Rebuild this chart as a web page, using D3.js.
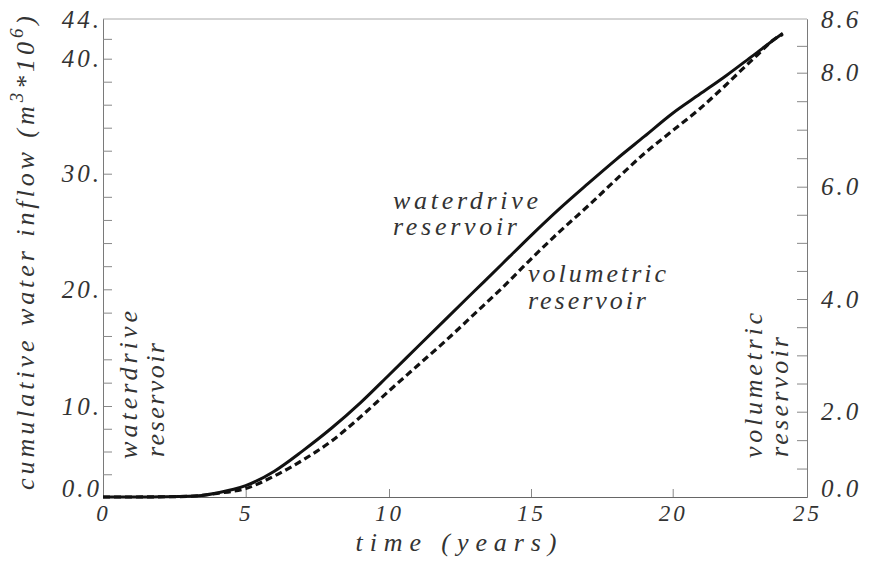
<!DOCTYPE html>
<html>
<head>
<meta charset="utf-8">
<script src="https://cdn.jsdelivr.net/npm/d3@7"></script>
<style>
  body { margin: 0; background: #fff; }
  svg text { font-family: "Liberation Serif", "DejaVu Serif", serif; font-style: italic; fill: #333; }
  .tick text { font-size: 25px; letter-spacing: 3px; }
  .xaxis .tick text { font-size: 23px; }
  .note { font-size: 26px; }
</style>
</head>
<body>
<svg id="chart" width="869" height="562"></svg>
<script>
// Cumulative water inflow over time for two reservoir types
const timeYears = [0, 1, 2, 3, 4, 5, 6, 7, 8, 9, 10, 11, 12, 13, 14, 15, 16, 17, 18, 19, 20, 21, 22, 23, 24, 24.1];
const waterdrive = [0, 0, 0.02, 0.07, 0.45, 1.24, 2.84, 5.10, 7.58, 10.27, 12.66, 15.06, 17.45, 19.83, 22.23, 24.65, 26.96, 29.12, 31.23, 33.24, 35.26, 36.9, 38.54, 40.34, 42.37, 42.56];
const volumetric = [0, 0, 0.02, 0.07, 0.40, 0.93, 2.31, 4.07, 6.16, 8.79, 11.29, 13.45, 15.6, 17.87, 20.16, 22.62, 24.97, 27.18, 29.49, 31.76, 33.75, 35.63, 37.76, 39.99, 42.33, 42.45];

// Axis ticks
const xTicks = [0, 5, 10, 15, 20, 25];
const leftTicks = [0, 10, 20, 30, 40, 44];
const leftMinor = [2.5, 5, 7.5, 12, 14, 16, 18, 22, 24, 26, 28, 32, 34, 36, 38, 42];
const rightTicks = [0, 2, 4, 6, 8, 8.6];
const rightMinor = [0.667, 1.333, 2.5, 3, 3.5, 4.5, 5, 5.5, 6.5, 7, 7.5, 8.3];

const svg = d3.select("#chart");

// piecewise-linear scales, one segment per labelled interval
const x = d3.scaleLinear().domain(xTicks).range([103, 245.7, 389, 531, 672.7, 807]);
const y = d3.scaleLinear().domain(leftTicks).range([497, 406, 289.3, 173.7, 58.7, 19]);
const y2 = d3.scaleLinear().domain(rightTicks).range([497, 411.7, 299, 186.7, 72.7, 19]);

const axisColor = "#7a7a7a";

// top frame line
svg.append("line")
  .attr("x1", x(0)).attr("x2", x(25))
  .attr("y1", y(44)).attr("y2", y(44))
  .attr("stroke", "#aaa").attr("stroke-width", 1);

// bottom axis
const gx = svg.append("g").attr("class", "xaxis").attr("transform", `translate(0,${y(0)})`)
  .call(d3.axisBottom(x).tickValues(xTicks).tickSize(-8).tickSizeOuter(0).tickPadding(8).tickFormat(d3.format("d")));

// left axis, majors + minors
const gy = svg.append("g").attr("transform", `translate(${x(0)},0)`)
  .call(d3.axisLeft(y).tickValues(leftTicks).tickSize(-9).tickSizeOuter(0).tickPadding(1)
    .tickFormat(d => d === 0 ? "0.0" : d + "."));
const gyMinor = svg.append("g").attr("transform", `translate(${x(0)},0)`)
  .call(d3.axisLeft(y).tickValues(leftMinor).tickSize(-9).tickSizeOuter(0).tickFormat(""));

// right axis, majors + minors
const gy2 = svg.append("g").attr("transform", `translate(${x(25)},0)`)
  .call(d3.axisRight(y2).tickValues(rightTicks).tickSize(-10).tickSizeOuter(0).tickPadding(14)
    .tickFormat(d3.format(".1f")));
const gy2Minor = svg.append("g").attr("transform", `translate(${x(25)},0)`)
  .call(d3.axisRight(y2).tickValues(rightMinor).tickSize(-10).tickSizeOuter(0).tickFormat(""));

[gx, gy, gyMinor, gy2, gy2Minor].forEach(g => {
  g.select(".domain").attr("stroke", axisColor).attr("stroke-width", 1);
  g.selectAll(".tick line").attr("stroke", "#888").attr("stroke-width", 1);
});
gx.select(".domain").attr("stroke", "#666");

// no tick marks where the frame corners already sit
gy.selectAll(".tick").filter(d => d === 0 || d === 44).select("line").remove();
gy2.selectAll(".tick").filter(d => d === 0 || d === 8.6).select("line").remove();
gx.selectAll(".tick").filter(d => d === 0 || d === 25).select("line").remove();

// bottom labels of the vertical axes sit on the baseline
gy.selectAll(".tick").filter(d => d === 0).select("text").attr("dy", "0.0em").attr("y", -1);
gy2.selectAll(".tick").filter(d => d === 0).select("text").attr("dy", "0.0em").attr("y", -1);

// series
const line = d3.line()
  .x((d, i) => x(timeYears[i]))
  .y(d => y(d))
  .curve(d3.curveMonotoneX);

svg.append("path").datum(volumetric)
  .attr("fill", "none").attr("stroke", "#111").attr("stroke-width", 3.2)
  .attr("stroke-dasharray", "7,4").attr("d", line);

svg.append("path").datum(waterdrive)
  .attr("fill", "none").attr("stroke", "#111").attr("stroke-width", 3)
  .attr("d", line);

// axis titles
svg.append("text")
  .attr("class", "note")
  .attr("x", 456).attr("y", 551)
  .attr("text-anchor", "middle")
  .attr("textLength", 201).attr("lengthAdjust", "spacing")
  .text("time (years)");

const yt = svg.append("text")
  .attr("class", "note")
  .attr("transform", "translate(34,253) rotate(-90)")
  .attr("text-anchor", "middle")
  .attr("textLength", 474).attr("lengthAdjust", "spacing");
yt.append("tspan").text("cumulative water inflow (m");
yt.append("tspan").attr("dy", -11).attr("font-size", 19).text("3");
yt.append("tspan").attr("dy", 11).text("*10");
yt.append("tspan").attr("dy", -11).attr("font-size", 19).text("6");
yt.append("tspan").attr("dy", 11).text(")");

// two-line curve annotations; each line is spread to its given width
function note(lines, px, py, rot, lineGap) {
  const t = svg.append("text")
    .attr("class", "note")
    .attr("transform", `translate(${px},${py})` + (rot ? " rotate(-90)" : ""));
  lines.forEach((ln, i) => {
    const ts = t.append("tspan")
      .attr("x", ln.shift || 0)
      .attr("dy", i === 0 ? 0 : lineGap)
      .text(ln.txt);
    const w = ts.node().getComputedTextLength();
    const n = ln.txt.length;
    ts.style("letter-spacing", ((ln.len - w) / (n - 1)) + "px");
  });
}
note([{ txt: "waterdrive", len: 145 }, { txt: "reservoir", len: 124 }], 393, 208.5, false, 26.5);
note([{ txt: "volumetric", len: 138 }, { txt: "reservoir", len: 118 }], 528, 282, false, 26.5);
note([{ txt: "waterdrive", len: 148 }, { txt: "reservoir", len: 114, shift: 2 }], 137, 459, true, 27);
note([{ txt: "volumetric", len: 145 }, { txt: "reservoir", len: 120, shift: 1 }], 762, 458, true, 26);
</script>
</body>
</html>
